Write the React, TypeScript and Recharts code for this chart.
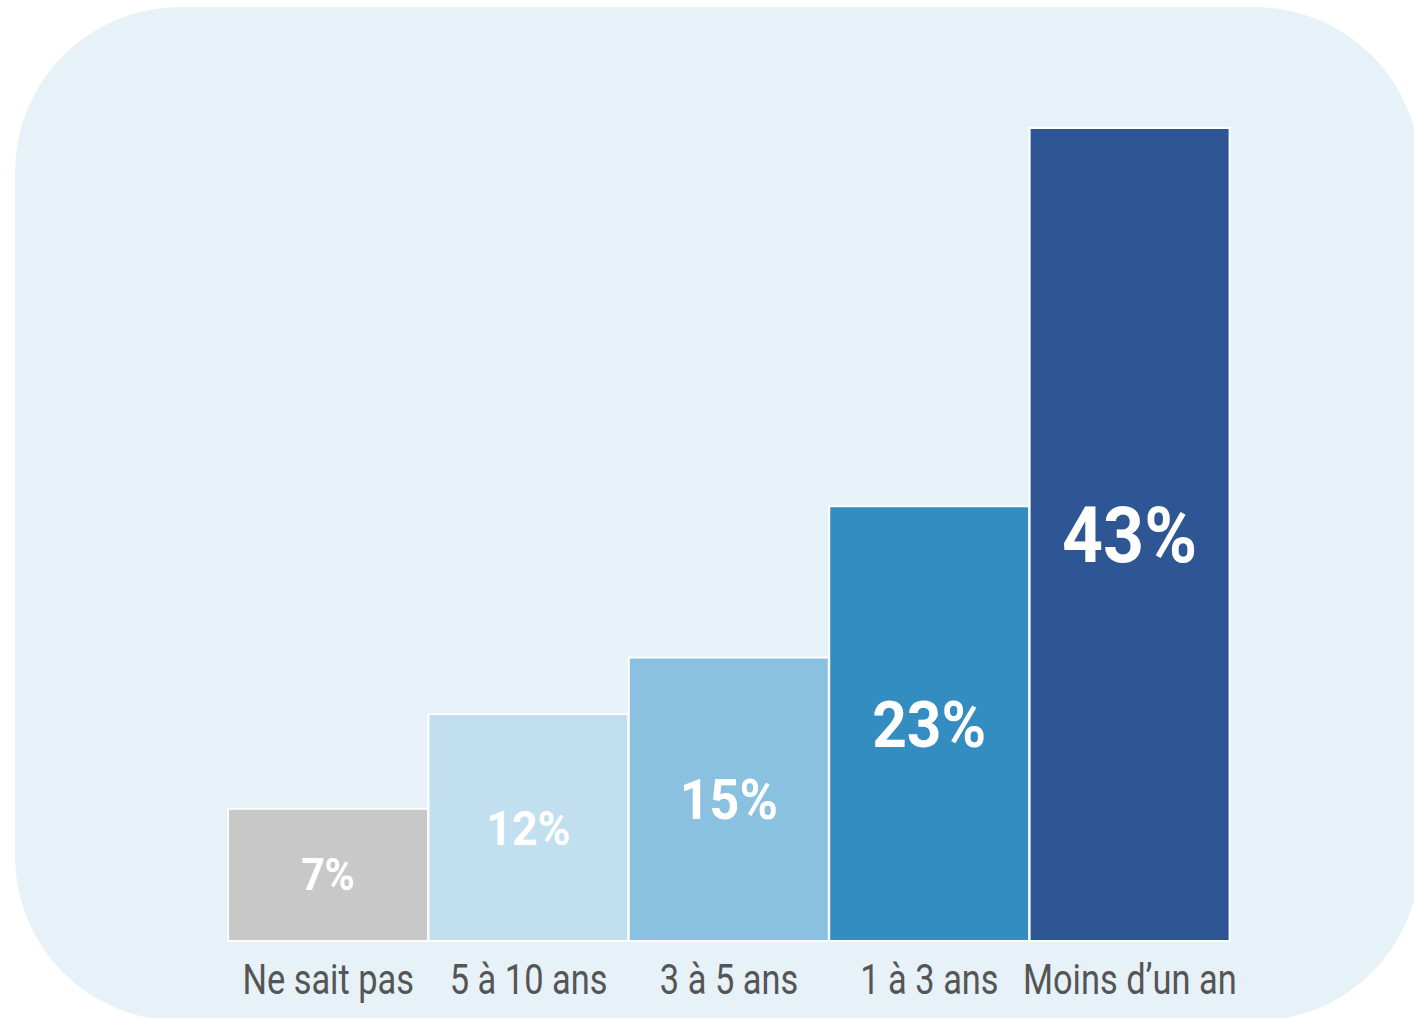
import React from 'react';
import { BarChart, Bar, XAxis, YAxis, Cell, LabelList } from 'recharts';

const categories = ['Ne sait pas', '5 à 10 ans', '3 à 5 ans', '1 à 3 ans', 'Moins d’un an'];
const shares = [7, 12, 15, 23, 43];

// style only: fill per bar and size of the value label inside it
const barColors = ['#c8c8c8', '#c2dff0', '#8bc1e0', '#348dc1', '#2e5594'];
const labelFontSizes = [44, 48, 56, 65, 77];

const data = categories.map((name, i) => ({ name, value: shares[i] }));

const ValueLabel = (props: any) => {
    const { x, y, width, height, value, index } = props;
    const i = typeof index === 'number' ? index : shares.indexOf(value);
    const fontSize = labelFontSizes[i] || 48;
    const cx = Number(x) + Number(width) / 2;
    const cy = Number(y) + Number(height) / 2 + fontSize * 0.355;
    return (
        <text
            x={cx}
            y={cy}
            textAnchor="middle"
            fill="#ffffff"
            fontFamily="Roboto, sans-serif"
            fontWeight={700}
            fontSize={fontSize}
            transform={`translate(${cx} 0) scale(0.93 1) translate(${-cx} 0)`}
        >
            {`${value}%`}
        </text>
    );
};

const CategoryTick = (props: any) => {
    const { x, y, payload } = props;
    return (
        <g transform={`translate(${x},${y})`}>
            <text
                x={0}
                y={45}
                textAnchor="middle"
                fill="#555555"
                fontFamily="Roboto, sans-serif"
                fontSize={43}
                transform="scale(0.8 1)"
            >
                {payload.value}
            </text>
        </g>
    );
};

export default function App() {
    return (
        <div style={{ position: 'absolute', left: 0, top: 0, width: 1414, height: 1018, overflow: 'hidden', background: '#ffffff' }}>
            <div
                style={{
                    position: 'absolute',
                    left: 15,
                    top: 7,
                    width: 1405,
                    height: 1014,
                    borderRadius: 165,
                    background: '#e7f1f8'
                }}
            />
            <div style={{ position: 'absolute', left: 0, top: 0 }}>
                <BarChart
                    width={1414}
                    height={1018}
                    data={data}
                    margin={{ top: 128, right: 184, left: 228, bottom: 0 }}
                    barCategoryGap={0}
                >
                    <XAxis
                        dataKey="name"
                        axisLine={false}
                        tickLine={false}
                        height={77}
                        interval={0}
                        tick={<CategoryTick />}
                    />
                    <YAxis hide domain={[0, 43]} />
                    <Bar dataKey="value" stroke="#ffffff" strokeWidth={2} isAnimationActive={false}>
                        {data.map((d, i) => (
                            <Cell key={d.name} fill={barColors[i]} />
                        ))}
                        <LabelList dataKey="value" content={<ValueLabel />} />
                    </Bar>
                </BarChart>
            </div>
        </div>
    );
}
